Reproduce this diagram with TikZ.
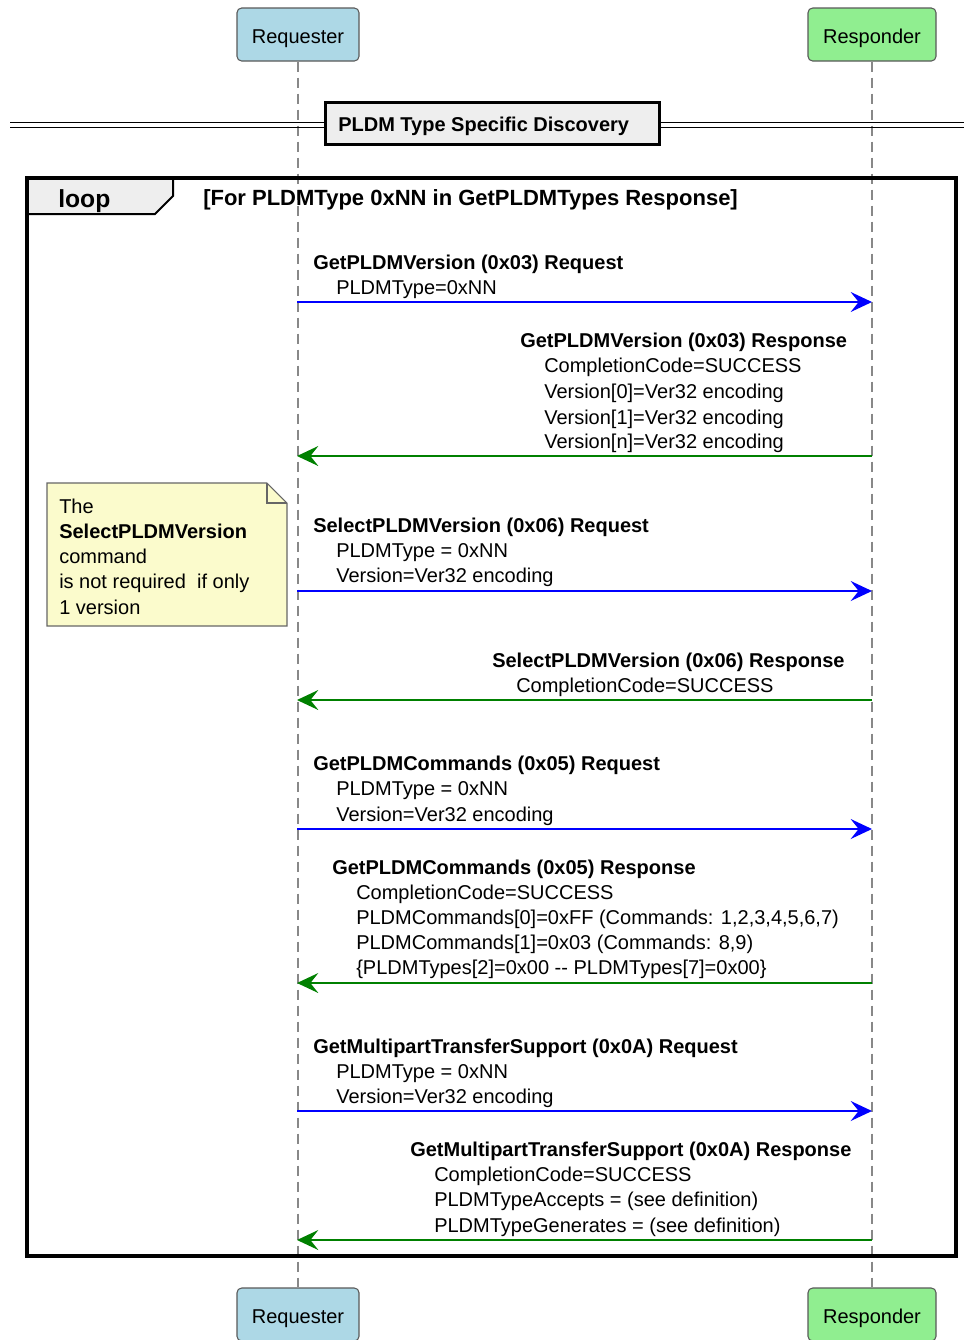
\documentclass[tikz,border=0pt]{standalone}
\usepackage{fontspec}
\setmainfont{Liberation Sans}
\usetikzlibrary{arrows.meta}
\definecolor{reqfill}{HTML}{ADD8E6}
\definecolor{resfill}{HTML}{90EE90}
\definecolor{notefill}{HTML}{FBFBCC}
\definecolor{framefill}{HTML}{EEEEEE}
\definecolor{lifegray}{HTML}{888888}
\definecolor{msgblue}{HTML}{0000FF}
\definecolor{msggreen}{HTML}{008000}
\begin{document}
\begin{tikzpicture}[x=0.75pt,y=-0.75pt,
  participant/.style={draw=black!65,line width=0.8pt,rounded corners=3.5pt,minimum height=39.75pt,inner sep=0pt,text height=13pt,text depth=0pt,font=\fontsize{15}{18}\selectfont},
  lifeline/.style={draw=lifegray,line width=1.1pt,dash pattern=on 7.5pt off 4.5pt},
  msgtitle/.style={anchor=base west,inner sep=0pt,font=\fontsize{15}{18}\selectfont\bfseries},
  msgline/.style={anchor=base west,inner sep=0pt,font=\fontsize{15}{18}\selectfont},
  reqarrow/.style={draw=msgblue,line width=1.1pt,-{Stealth[length=16pt,width=15pt,inset=6pt]}},
  resarrow/.style={draw=msggreen,line width=1.1pt,-{Stealth[length=16pt,width=15pt,inset=6pt]}},
  framebox/.style={draw=black,line width=2.4pt}
]
\useasboundingbox (0,0) rectangle (964,1340);
% participants
\node[participant,fill=reqfill,minimum width=91.5pt] (reqtop) at (298,34.5) {Requester};
\node[participant,fill=resfill,minimum width=96pt] (restop) at (872,34.5) {Responder};
\node[participant,fill=reqfill,minimum width=91.5pt] (reqbot) at (298,1314.5) {Requester};
\node[participant,fill=resfill,minimum width=96pt] (resbot) at (872,1314.5) {Responder};
\draw[lifeline] (reqtop.south) -- (reqbot.north);
\draw[lifeline] (restop.south) -- (resbot.north);
% divider
\coordinate (dl) at (10,125);
\coordinate (dr) at (964,125);
\draw[black,line width=1.3pt] ([yshift=-1.9pt]dl) -- ([yshift=-1.9pt]dr);
\draw[black,line width=1.3pt] ([yshift=1.9pt]dl) -- ([yshift=1.9pt]dr);
\node[draw=black,line width=2.4pt,fill=framefill,minimum width=251pt,minimum height=31.5pt,inner sep=0pt] (divbox) at (492.5,123.5) {};
\node[anchor=base west,inner sep=0pt,font=\fontsize{15}{18}\selectfont\bfseries] (divtext) at (338,131) {PLDM Type Specific Discovery};
% loop frame
\draw[line width=1.5pt,fill=framefill] (27,178) -- (173,178) -- (173,196) -- (155,214) -- (27,214) -- cycle;
\draw[framebox] (27,178) rectangle (956,1256);
\node[anchor=base west,inner sep=0pt,font=\fontsize{18.5}{22}\selectfont\bfseries] (looplabel) at (58,207) {loop};
\node[anchor=base west,inner sep=0pt,font=\fontsize{16.5}{20}\selectfont\bfseries] (loopcond) at (203,205) {[For PLDMType 0xNN in GetPLDMTypes Response]};
% note
\draw[draw=black!60,line width=0.8pt,fill=notefill] (47,483) -- (267,483) -- (287,503) -- (287,626) -- (47,626) -- cycle;
\draw[draw=black!60,line width=0.8pt] (267,483) -- (267,503) -- (287,503);
\node[msgline] (n1) at (59,513) {The};
\node[msgtitle] (n2) at (59,538) {SelectPLDMVersion};
\node[msgline] (n3) at (59,563) {command};
\node[msgline] (n4) at (59,588) {is not required\ \ if\ only};
\node[msgline] (n5) at (59,614) {1 version};
% message 1
\node[msgtitle] (m1t) at (313,269) {GetPLDMVersion (0x03) Request};
\node[msgline] (m1a) at (336,294) {PLDMType=0xNN};
\coordinate (q1) at (297,302); \coordinate (p1) at (872,302);
\draw[reqarrow] (q1) -- (p1);
% message 2
\node[msgtitle] (m2t) at (520,347) {GetPLDMVersion (0x03) Response};
\node[msgline] (m2a) at (544,372) {CompletionCode=SUCCESS};
\node[msgline] (m2b) at (544,398) {Version[0]=Ver32 encoding};
\node[msgline] (m2c) at (544,424) {Version[1]=Ver32 encoding};
\node[msgline] (m2d) at (544,448) {Version[n]=Ver32 encoding};
\coordinate (q2) at (297,456); \coordinate (p2) at (872,456);
\draw[resarrow] (p2) -- (q2);
% message 3
\node[msgtitle] (m3t) at (313,532) {SelectPLDMVersion (0x06) Request};
\node[msgline] (m3a) at (336,557) {PLDMType = 0xNN};
\node[msgline] (m3b) at (336,582) {Version=Ver32 encoding};
\coordinate (q3) at (297,591); \coordinate (p3) at (872,591);
\draw[reqarrow] (q3) -- (p3);
% message 4
\node[msgtitle] (m4t) at (492,667) {SelectPLDMVersion (0x06) Response};
\node[msgline] (m4a) at (516,692) {CompletionCode=SUCCESS};
\coordinate (q4) at (297,700); \coordinate (p4) at (872,700);
\draw[resarrow] (p4) -- (q4);
% message 5
\node[msgtitle] (m5t) at (313,770) {GetPLDMCommands (0x05) Request};
\node[msgline] (m5a) at (336,795) {PLDMType = 0xNN};
\node[msgline] (m5b) at (336,821) {Version=Ver32 encoding};
\coordinate (q5) at (297,829); \coordinate (p5) at (872,829);
\draw[reqarrow] (q5) -- (p5);
% message 6
\node[msgtitle] (m6t) at (332,874) {GetPLDMCommands (0x05) Response};
\node[msgline] (m6a) at (356,899) {CompletionCode=SUCCESS};
\node[msgline] (m6b) at (356,924) {PLDMCommands[0]=0xFF (Commands: 1,2,3,4,5,6,7)};
\node[msgline] (m6c) at (356,949) {PLDMCommands[1]=0x03 (Commands: 8,9)};
\node[msgline] (m6d) at (356,974) {\{PLDMTypes[2]=0x00 -{}- PLDMTypes[7]=0x00\}};
\coordinate (q6) at (297,983); \coordinate (p6) at (872,983);
\draw[resarrow] (p6) -- (q6);
% message 7
\node[msgtitle] (m7t) at (313,1053) {GetMultipartTransferSupport (0x0A) Request};
\node[msgline] (m7a) at (336,1078) {PLDMType = 0xNN};
\node[msgline] (m7b) at (336,1103) {Version=Ver32 encoding};
\coordinate (q7) at (297,1111); \coordinate (p7) at (872,1111);
\draw[reqarrow] (q7) -- (p7);
% message 8
\node[msgtitle] (m8t) at (410,1156) {GetMultipartTransferSupport (0x0A) Response};
\node[msgline] (m8a) at (434,1181) {CompletionCode=SUCCESS};
\node[msgline] (m8b) at (434,1206) {PLDMTypeAccepts = (see definition)};
\node[msgline] (m8c) at (434,1232) {PLDMTypeGenerates = (see definition)};
\coordinate (q8) at (297,1240); \coordinate (p8) at (872,1240);
\draw[resarrow] (p8) -- (q8);
\end{tikzpicture}
\end{document}
